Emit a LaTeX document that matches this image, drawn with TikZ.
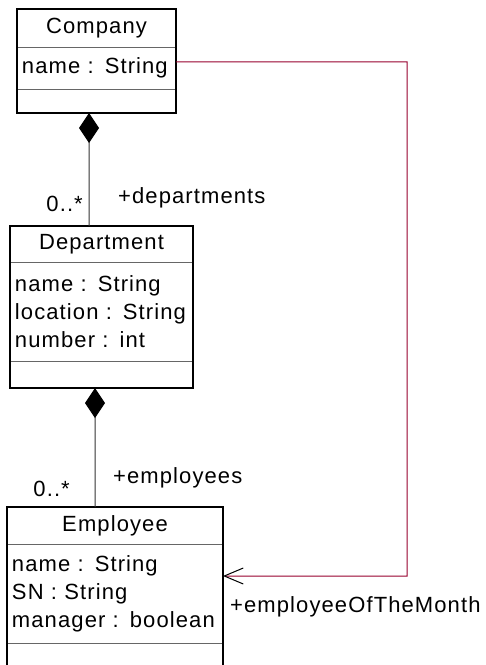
\documentclass[tikz,border=0pt]{standalone}
\usepackage{fontspec}
\setmainfont{Liberation Sans}[LetterSpace=5]
\usetikzlibrary{positioning,arrows.meta}
\definecolor{assoc}{RGB}{150,0,45}

\begin{document}
\begin{tikzpicture}[
						x=1bp, y=-1bp,
						font=\fontsize{22bp}{28bp}\selectfont,
						part/.style = {draw=black!60, line width=0.8bp, outer sep=0pt, inner xsep=5bp, inner ysep=3bp},
						attrs/.style = {part, text width=#1, align=left},
						frame/.style = {draw, line width=1.3bp},
						lbl/.style = {inner sep=0pt},
						compos/.style = {draw=black!80, line width=1bp, {Diamond[length=30bp,width=20bp,black]}-}
					]
					\useasboundingbox (0,0) rectangle (486,665);
					\node[part, minimum width=159bp, minimum height=38bp] (company) at (96.5,28) {Company};
					\node[attrs=149bp, minimum height=42bp] (company-attr) [below=0pt of company] {name : String};
					\node[part, minimum width=159bp, minimum height=24bp] (company-ops) [below=0pt of company-attr] {};
					\draw[frame] (company.north west) rectangle (company-ops.south east);
					\node[part, minimum width=183bp, minimum height=36bp] (department) at (101.5,244) {Department};
					\node[attrs=173bp, minimum height=99bp] (department-attr) [below=0pt of department] {name : String\\location : String\\number : int};
					\node[part, minimum width=183bp, minimum height=27bp] (department-ops) [below=0pt of department-attr] {};
					\draw[frame] (department.north west) rectangle (department-ops.south east);
					\node[part, minimum width=216bp, minimum height=37bp] (employee) at (115,525.5) {Employee};
					\node[attrs=206bp, minimum height=99bp] (employee-attr) [below=0pt of employee] {name : String\\SN : String\\manager : boolean};
					\node[part, minimum width=216bp, minimum height=40bp] (employee-ops) [below=0pt of employee-attr] {};
					\draw[frame] (employee.north west) rectangle (employee-ops.south east);
					\node[lbl, anchor=east] (departments-mult) at (83,204) {0..*};
					\node[lbl, anchor=west] (departments-role) at (118,198) {+departments};
					\node[lbl, anchor=east] (employees-mult) at (70,489) {0..*};
					\node[lbl, anchor=west] (employees-role) at (113,477.5) {+employees};
					\node[lbl, anchor=west] (month-role) at (230,607) {+employeeOfTheMonth};
					\coordinate (month-bend) at (407,576);
					\draw[compos] ([xshift=-7.5bp]company-ops.south) to ([xshift=-12.5bp]department.north);
					\draw[compos] ([xshift=-6.5bp]department-ops.south) to ([xshift=-20bp]employee.north);
					\draw[assoc, line width=1bp, -{Straight Barb[length=19bp,width=16bp,black]}] ([yshift=6bp]company-attr.east) -| (month-bend) -- ([yshift=17.5bp]employee-attr.east);
				\end{tikzpicture}
\end{document}
